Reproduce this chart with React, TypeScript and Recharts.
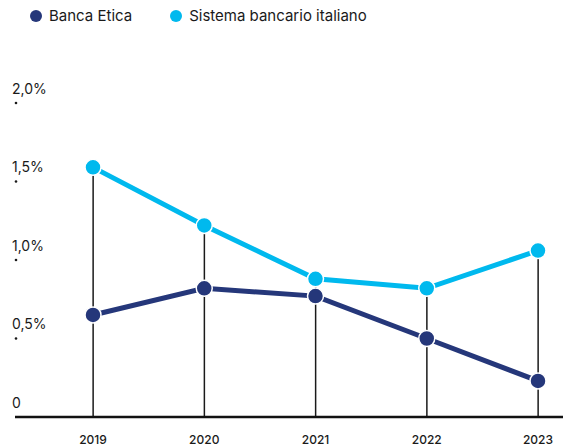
import { Bar, ComposedChart, Line, XAxis, YAxis } from "recharts";

const YEARS = ["2019", "2020", "2021", "2022", "2023"];
const BANCA_ETICA = [0.65, 0.82, 0.77, 0.5, 0.23];
const SISTEMA = [1.59, 1.22, 0.88, 0.82, 1.06];
const Y_TICKS = [0, 0.5, 1, 1.5, 2];
const Y_LABELS = ["0", "0,5%", "1,0%", "1,5%", "2,0%"];

const NAVY = "#25377a";
const CYAN = "#00b9ee";
const FONT = "Inter, 'Noto Sans', sans-serif";

const data = YEARS.map((year, i) => ({
  year,
  etica: BANCA_ETICA[i],
  sistema: SISTEMA[i],
  top: Math.max(BANCA_ETICA[i], SISTEMA[i]),
}));

function YTick(props: any) {
  const { y, payload } = props;
  const idx = Y_TICKS.indexOf(payload.value);
  return (
    <g>
      <text
        x={12}
        y={y - 13}
        dominantBaseline="middle"
        fontSize={14}
        fontFamily={FONT}
        fill="#1a1a1a"
      >
        {Y_LABELS[idx]}
      </text>
      {payload.value > 0 && <circle cx={16} cy={y} r={1.3} fill="#1a1a1a" />}
    </g>
  );
}

function LegendItem({ color, label }: { color: string; label: string }) {
  return (
    <div style={{ display: "flex", alignItems: "center", marginRight: 38 }}>
      <span
        style={{
          width: 12,
          height: 12,
          borderRadius: "50%",
          background: color,
          display: "inline-block",
          marginRight: 7,
        }}
      />
      <span>{label}</span>
    </div>
  );
}

export default function App() {
  return (
    <div style={{ position: "relative", width: 563, height: 448, fontFamily: FONT }}>
      <style>{`body{margin:0}`}</style>
      <div
        style={{
          position: "absolute",
          top: 6,
          left: 30,
          display: "flex",
          fontSize: 15,
          color: "#1a1a1a",
          lineHeight: "20px",
        }}
      >
        <LegendItem color={NAVY} label="Banca Etica" />
        <LegendItem color={CYAN} label="Sistema bancario italiano" />
      </div>
      <ComposedChart
        width={563}
        height={448}
        data={data}
        margin={{ top: 103, right: 0, bottom: 0, left: 0 }}
      >
        <XAxis
          dataKey="year"
          scale="point"
          padding={{ left: 78, right: 25 }}
          height={31}
          stroke="#111"
          strokeWidth={2.5}
          tickLine={false}
          tickMargin={12}
          tick={{ fontSize: 12, fontWeight: 500, fill: "#1a1a1a", fontFamily: FONT }}
        />
        <YAxis
          domain={[0, 2]}
          ticks={Y_TICKS}
          width={15}
          axisLine={false}
          tickLine={false}
          tick={<YTick />}
        />
        <Bar dataKey="top" barSize={1.5} fill="#1a1a1a" isAnimationActive={false} />
        <Line
          dataKey="etica"
          stroke={NAVY}
          strokeWidth={5}
          dot={{ r: 8, fill: NAVY, stroke: "#fff", strokeWidth: 1.5 }}
          isAnimationActive={false}
        />
        <Line
          dataKey="sistema"
          stroke={CYAN}
          strokeWidth={5}
          dot={{ r: 8, fill: CYAN, stroke: "#fff", strokeWidth: 1.5 }}
          isAnimationActive={false}
        />
      </ComposedChart>
    </div>
  );
}
